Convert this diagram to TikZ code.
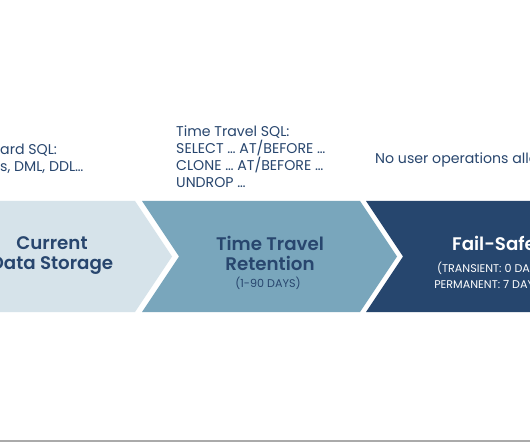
\documentclass[tikz,border=0pt]{standalone}
\usepackage{fontspec}
\setmainfont{Poppins}[BoldFont={Poppins SemiBold}]

\definecolor{stagelight}{RGB}{214,227,234}
\definecolor{stagemid}{RGB}{121,166,188}
\definecolor{stagedark}{RGB}{38,70,110}
\definecolor{stagenavy}{RGB}{40,70,110}
\definecolor{rulegray}{RGB}{170,170,170}

\begin{document}
\begin{tikzpicture}[
    x=1bp, y=-1bp,
    sqltext/.style={font=\fontsize{14.2}{17}\selectfont, text=stagenavy, align=left, inner sep=0pt, anchor=west},
    heading/.style={font=\fontsize{18.3}{20}\selectfont\bfseries, align=center, inner sep=0pt},
    subtext/.style={font=\fontsize{11.2}{16}\selectfont, align=center, inner sep=0pt},
  ]
    \useasboundingbox (0,0) rectangle (530,442);
    \clip (0,0) rectangle (530,442);
    \fill[white] (0,0) rectangle (530,442);

    % === the three stages, as chevrons ===
    \fill[stagelight] (-90,201) -- (135,201) -- (172,256.5) -- (135,312) -- (-90,312) -- cycle;
    \fill[stagemid] (142,201) -- (360,201) -- (397,256.5) -- (360,312) -- (142,312) -- (179,256.5) -- cycle;
    \fill[stagedark] (366,201) -- (600,201) -- (637,256.5) -- (600,312) -- (366,312) -- (403,256.5) -- cycle;

    % --- stage labels ---
    \node[heading, text=stagenavy] (current) at (52,256) {Current\\Data Storage};
    \node[heading, text=stagenavy] (travel) at (270,253.5) {Time Travel\\Retention};
    \node[subtext, text=stagenavy] (traveldays) at (268,283) {(1-90 DAYS)};
    \node[heading, text=white] (failsafe) at (494,243.5) {Fail-Safe};
    \node[subtext, text=white] (failsafedays) at (490,276) {(TRANSIENT: 0 DAYS\\PERMANENT: 7 DAYS)};

    % --- operations above each stage ---
    \node[sqltext] (currentops) at (0,158.5) {ard SQL:\\s, DML, DDL…};
    \node[sqltext] (travelops) at (176,156.5) {Time Travel SQL:\\SELECT … AT/BEFORE …\\CLONE … AT/BEFORE …\\UNDROP …};
    \node[sqltext] (failsafeops) at (375,159.5) {No user operations allowed};

    % bottom rule
    \draw[rulegray, line width=1.2bp] (0,441) -- (530,441);
  \end{tikzpicture}
\end{document}
